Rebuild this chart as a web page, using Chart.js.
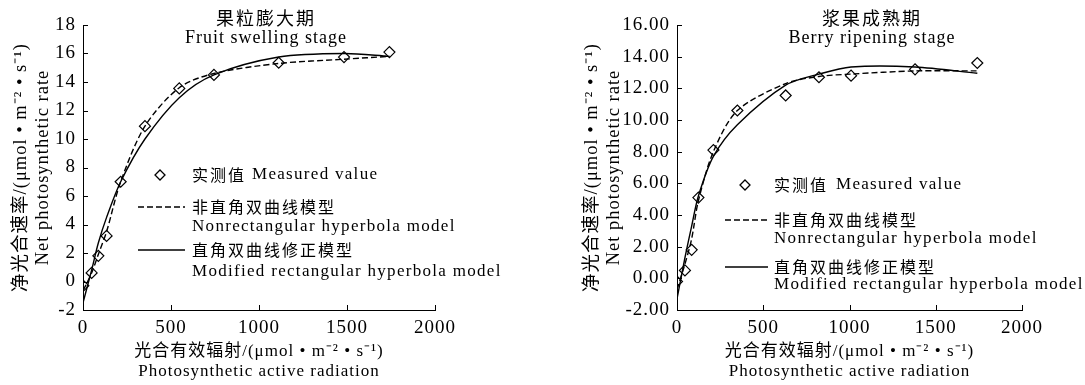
<!DOCTYPE html>
<html>
<head>
<meta charset="utf-8">
<script src="https://cdn.jsdelivr.net/npm/chart.js@4"></script>
<style>
body { margin: 0; background: #fff; }
#wrap { position: relative; width: 1085px; height: 385px; overflow: hidden; background: #fff; }
canvas { position: absolute; top: 0; }
</style>
</head>
<body>
<div id="wrap">
  <canvas id="c1" width="600" height="385" style="left:0"></canvas>
  <canvas id="c2" width="545" height="385" style="left:540px"></canvas>
</div>
<script>
// Donnees (PAR en x, Pn en y)
// Fruit swelling stage
const parSwelling = [2, 49, 87, 134, 214, 352, 547, 744, 1112, 1483, 1741];
const pnSwelling  = [-0.3, 0.6, 1.8, 3.2, 7.0, 10.9, 13.55, 14.5, 15.35, 15.75, 16.1];
const nrhSwelling = [-0.6, 0.6, 1.9, 3.5, 7.0, 10.9, 13.6, 14.6, 15.3, 15.6, 15.8];
const mrhSwelling = [-1.4, 0.8, 2.7, 4.5, 7.0, 10.0, 12.9, 14.5, 15.75, 16.0, 15.8];

// Berry ripening stage
const parRipening = [0, 46, 85, 124, 211, 350, 630, 823, 1009, 1380, 1741];
const pnRipening  = [-0.2, 0.5, 1.8, 5.1, 8.1, 10.6, 11.55, 12.7, 12.8, 13.2, 13.6];
const nrhRipening = [-0.7, 0.9, 2.5, 4.9, 8.0, 10.6, 12.3, 12.75, 12.9, 13.1, 13.1];
const mrhRipening = [-1.3, 1.3, 3.3, 5.2, 7.7, 9.7, 12.2, 12.9, 13.35, 13.35, 12.95];

// Ticks
const xTicks = [0, 500, 1000, 1500, 2000];
const yTicksSwelling = [-2, 0, 2, 4, 6, 8, 10, 12, 14, 16, 18];
const yTicksRipening = [-2, 0, 2, 4, 6, 8, 10, 12, 14, 16];

// Textes
const xTitle = ['光合有效辐射/(μmol • m⁻² • s⁻¹)', 'Photosynthetic active radiation'];
const yTitle = ['净光合速率/(μmol • m⁻² • s⁻¹)', 'Net photosynthetic rate'];
const titleSwelling = ['果粒膨大期', 'Fruit swelling stage'];
const titleRipening = ['浆果成熟期', 'Berry ripening stage'];
const legendZh = ['实测值', '非直角双曲线模型', '直角双曲线修正模型'];
const legendEn = ['Measured value', 'Nonrectangular hyperbola model', 'Modified rectangular hyperbola model'];

const SERIF = "'Liberation Serif', 'Noto Sans CJK SC'";
const CJK = "'Noto Sans CJK SC'";

// Plugin : ticks vers l'interieur, titre de stade, legende
const decor = {
  id: 'decor',
  beforeDraw(chart) {
    chart.ctx.letterSpacing = '1px';
  },
  afterDraw(chart, args, o) {
    const { ctx, chartArea: a, scales: { x, y } } = chart;
    ctx.save();
    ctx.strokeStyle = '#000';
    ctx.lineWidth = 1;
    ctx.setLineDash([]);
    ctx.beginPath();
    x.ticks.forEach(t => {
      const px = Math.round(x.getPixelForValue(t.value)) + 0.5;
      ctx.moveTo(px, a.bottom);
      ctx.lineTo(px, a.bottom - 5);
    });
    y.ticks.forEach(t => {
      const py = Math.round(y.getPixelForValue(t.value)) + 0.5;
      ctx.moveTo(a.left, py);
      ctx.lineTo(a.left + 5, py);
    });
    ctx.stroke();

    // titre
    ctx.fillStyle = '#000';
    ctx.textAlign = 'center';
    ctx.textBaseline = 'middle';
    ctx.font = '18px ' + CJK;
    ctx.letterSpacing = '2px';
    ctx.fillText(o.title[0], o.titleX, 18);
    ctx.font = '18px ' + SERIF;
    ctx.letterSpacing = '1px';
    ctx.fillText(o.title[1], o.titleX, 38);

    // legende
    const L = o.legend;
    ctx.textAlign = 'left';
    // losange
    ctx.lineWidth = 1.3;
    ctx.beginPath();
    ctx.moveTo(L.mark, L.rows[0] - 5);
    ctx.lineTo(L.mark + 5, L.rows[0]);
    ctx.lineTo(L.mark, L.rows[0] + 5);
    ctx.lineTo(L.mark - 5, L.rows[0]);
    ctx.closePath();
    ctx.stroke();
    // lignes
    ctx.lineWidth = 1.4;
    ctx.setLineDash([6, 3]);
    ctx.beginPath();
    ctx.moveTo(L.x0, L.rows[1]);
    ctx.lineTo(L.x1, L.rows[1]);
    ctx.stroke();
    ctx.setLineDash([]);
    ctx.beginPath();
    ctx.moveTo(L.x0, L.rows[3]);
    ctx.lineTo(L.x1, L.rows[3]);
    ctx.stroke();
    ctx.font = '16px ' + CJK;
    ctx.letterSpacing = '2px';
    ctx.fillText(legendZh[0], L.text, L.rows[0]);
    ctx.fillText(legendZh[1], L.text, L.rows[1]);
    ctx.fillText(legendZh[2], L.text, L.rows[3]);
    ctx.font = '17px ' + SERIF;
    ctx.letterSpacing = '1.3px';
    ctx.fillText(legendEn[0], L.text + L.enShift, L.rows[0]);
    ctx.fillText(legendEn[1], L.text, L.rows[2]);
    ctx.fillText(legendEn[2], L.text, L.rows[4]);
    ctx.restore();
  }
};

function pts(xs, ys) {
  return xs.map((v, i) => ({ x: v, y: ys[i] }));
}

function createChart(canvasId, par, pn, nrh, mrh, yTicks, yFmt, lay, deco) {
  new Chart(document.getElementById(canvasId), {
    type: 'scatter',
    data: {
      datasets: [{
        label: legendEn[0],
        data: pts(par, pn),
        pointStyle: 'rectRot',
        pointRadius: 5.5,
        pointBorderWidth: 1.2,
        borderColor: '#000',
        backgroundColor: 'rgba(0,0,0,0)'
      }, {
        label: legendEn[1],
        data: pts(par, nrh),
        showLine: true,
        pointRadius: 0,
        borderColor: '#000',
        borderWidth: 1.4,
        borderDash: [6, 3],
        tension: 0.3
      }, {
        label: legendEn[2],
        data: pts(par, mrh),
        showLine: true,
        pointRadius: 0,
        borderColor: '#000',
        borderWidth: 1.4,
        tension: 0.3
      }]
    },
    options: {
      responsive: false,
      animation: false,
      devicePixelRatio: 1,
      layout: { padding: { left: lay.left, top: 25, right: lay.right, bottom: 0 } },
      plugins: {
        legend: { display: false },
        tooltip: { enabled: false },
        decor: deco
      },
      scales: {
        x: {
          type: 'linear',
          min: 0, max: 2000,
          afterBuildTicks: s => { s.ticks = xTicks.map(v => ({ value: v })); },
          afterFit: s => { s.height = 75; },
          grid: { display: false, drawTicks: false },
          border: { display: true, color: '#000', width: 1 },
          ticks: { color: '#000', padding: 7, font: { family: SERIF, size: 19 }, callback: v => String(v) },
          title: {
            display: true, text: xTitle, color: '#000',
            padding: { top: 0, bottom: 3 },
            font: { family: SERIF, size: 17, lineHeight: 1.2 }
          }
        },
        y: {
          type: 'linear',
          min: yTicks[0], max: yTicks[yTicks.length - 1],
          afterBuildTicks: s => { s.ticks = yTicks.map(v => ({ value: v })); },
          afterFit: s => { s.width = lay.yWidth; },
          grid: { display: false, drawTicks: false },
          border: { display: true, color: '#000', width: 1 },
          ticks: { color: '#000', padding: 7, font: { family: SERIF, size: 19 }, callback: yFmt },
          title: {
            display: true, text: yTitle, color: '#000',
            padding: { top: lay.titlePad, bottom: 0 },
            font: { family: SERIF, size: 18.5, lineHeight: 1.2 }
          }
        }
      }
    },
    plugins: [decor]
  });
}

createChart('c1', parSwelling, pnSwelling, nrhSwelling, mrhSwelling, yTicksSwelling,
  v => String(v),
  { left: 0, right: 165, yWidth: 83, titlePad: 10 },
  { title: titleSwelling, titleX: 266,
    legend: { mark: 160, text: 192, enShift: 60, x0: 138, x1: 185, rows: [175, 207, 227, 250, 272] } });

createChart('c2', parRipening, pnRipening, nrhRipening, mrhRipening, yTicksRipening,
  v => v.toFixed(2),
  { left: 41, right: 63, yWidth: 96, titlePad: 0 },
  { title: titleRipening, titleX: 332,
    legend: { mark: 205, text: 234, enShift: 62, x0: 185, x1: 228, rows: [185, 220, 239, 267, 285] } });
</script>
</body>
</html>
